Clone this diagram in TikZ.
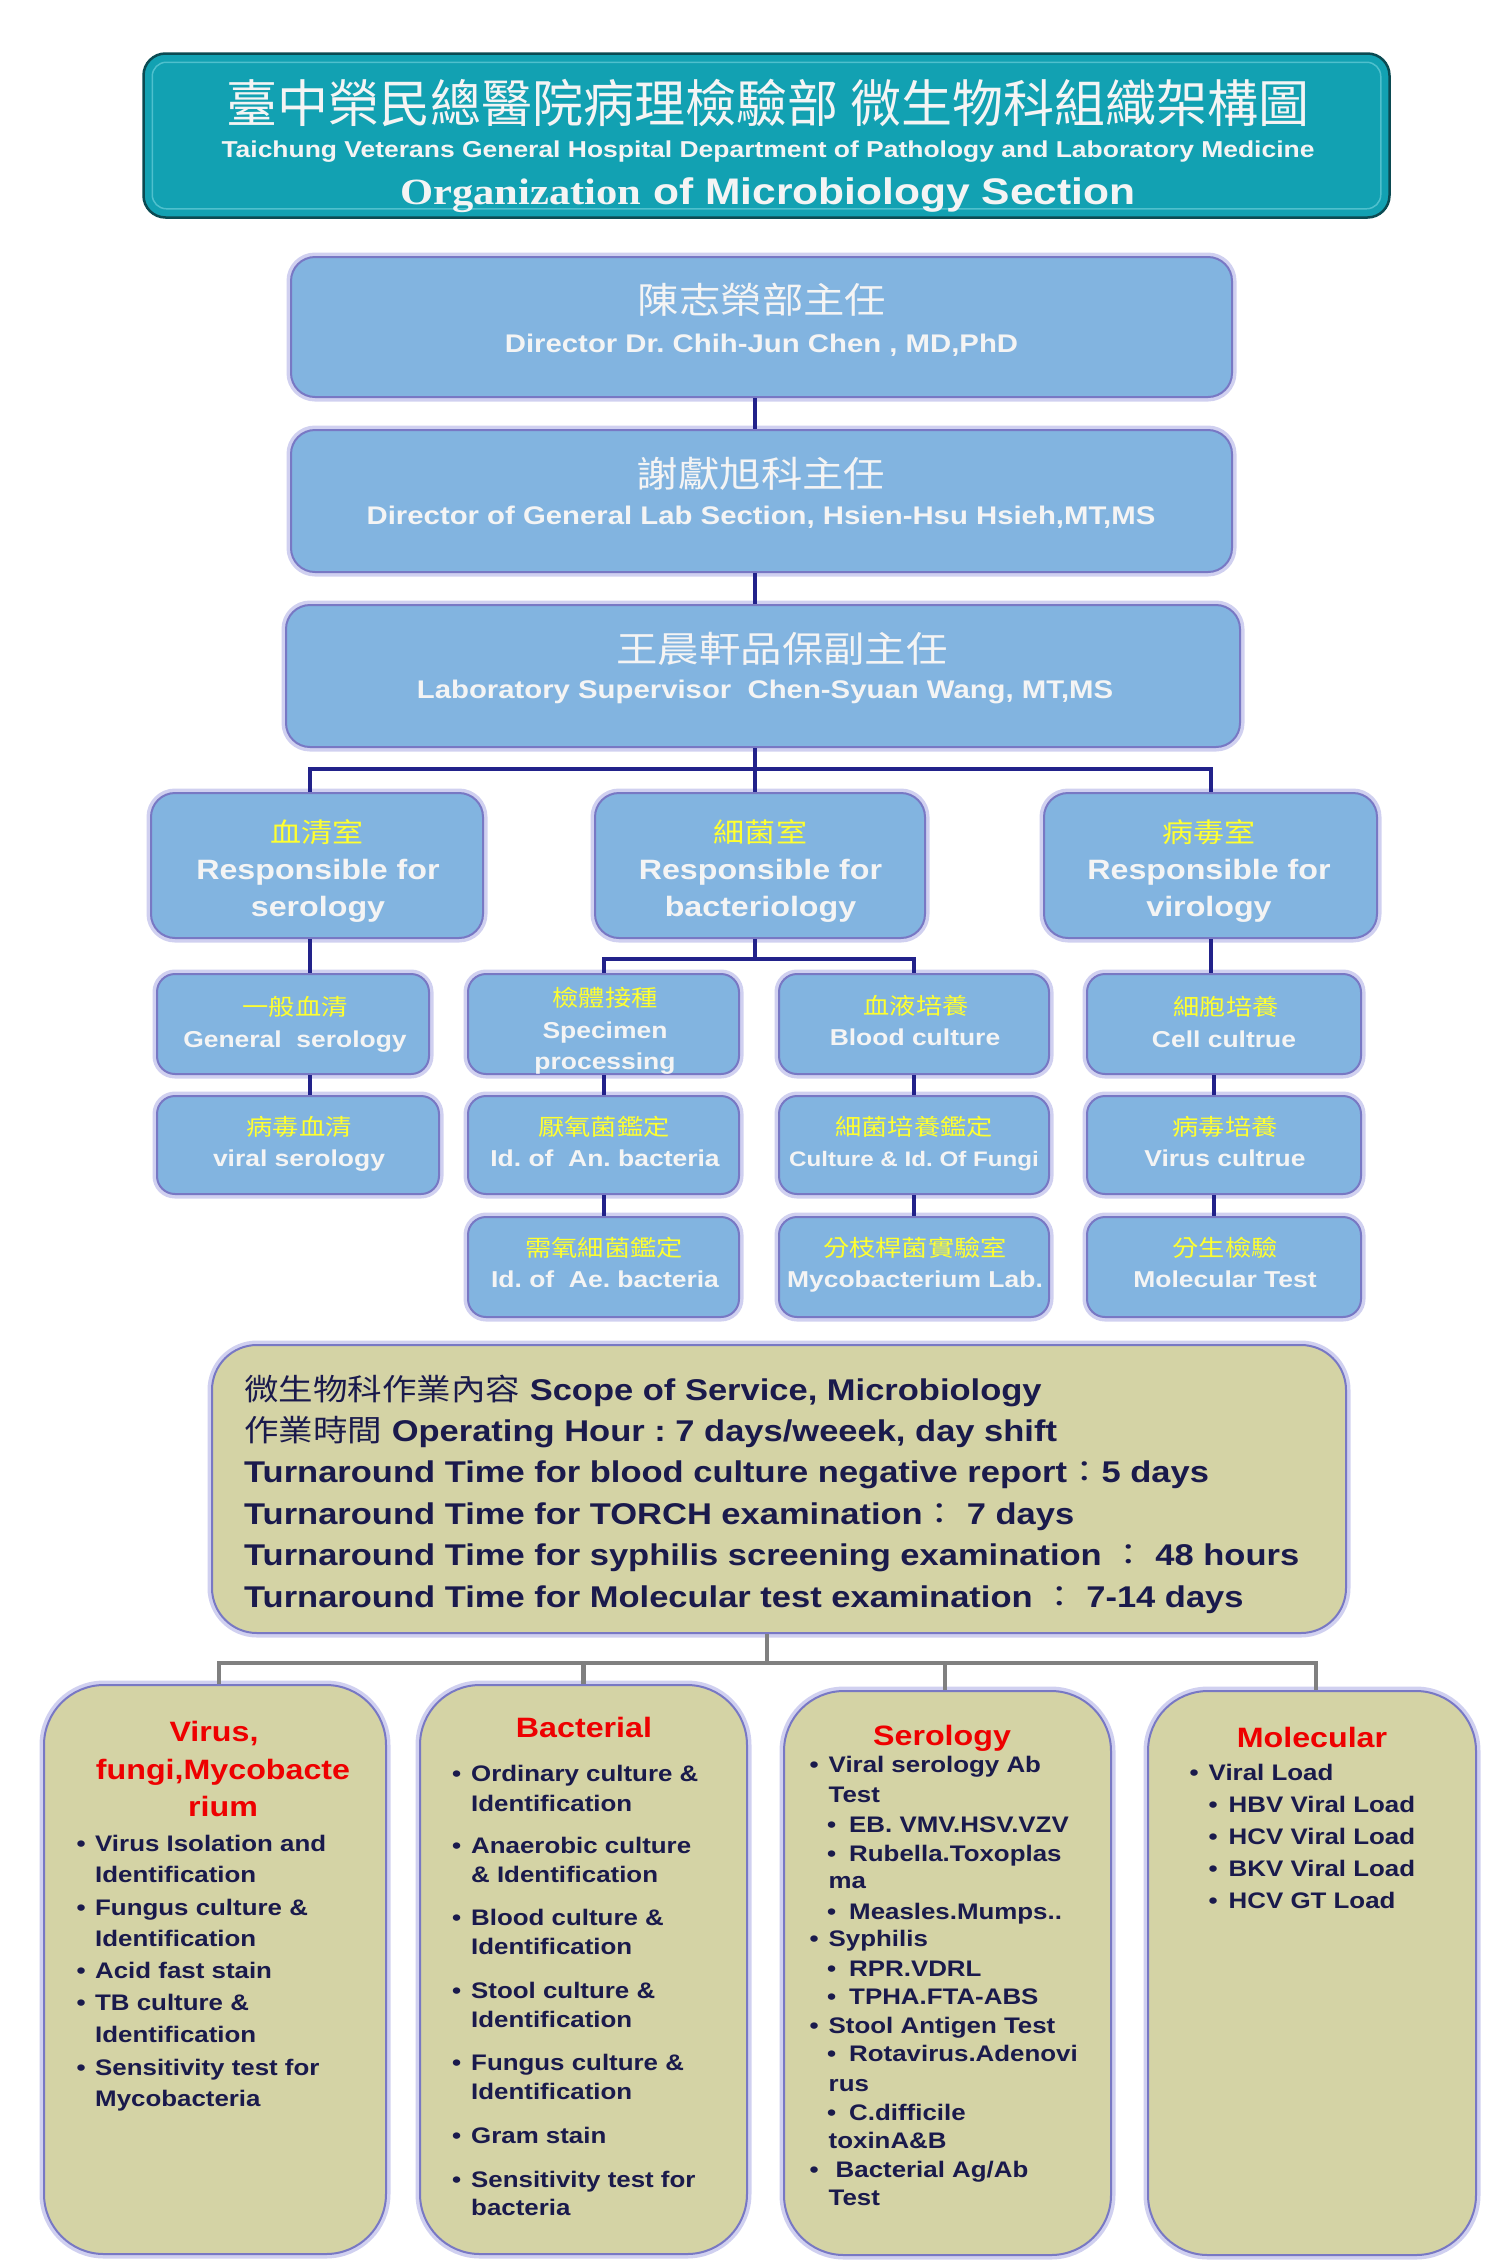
\documentclass[tikz,border=0pt]{standalone}
\usepackage{fontspec}
\setmainfont{Liberation Sans}[FakeStretch=1.15]
\newfontfamily\cjk{Noto Sans CJK TC}[FakeStretch=1.15]
\newfontfamily\cjkn{Noto Sans CJK TC}
\newfontfamily\serifbf{Liberation Serif}[FakeStretch=1.15]
\newcommand\myfs[1]{\fontsize{#1}{#1}\selectfont}
\definecolor{tealfill}{HTML}{12A1B2}
\definecolor{tealdark}{HTML}{0B4A52}
\definecolor{teallight}{HTML}{4FC0CD}
\definecolor{boxblue}{HTML}{82B4E0}
\definecolor{glowc}{HTML}{ABABE4}
\definecolor{edgec}{HTML}{7878C4}
\definecolor{khaki}{HTML}{D4D3A5}
\definecolor{connc}{HTML}{22228A}
\definecolor{navytxt}{HTML}{1A1A4C}
\definecolor{yel}{HTML}{FFFF30}
\definecolor{redt}{HTML}{EE0000}
\definecolor{grayc}{HTML}{808080}
\definecolor{whitet}{HTML}{F4F4F4}
\begin{document}
\frenchspacing
\begin{tikzpicture}[x=1pt,y=-1pt,
  bbox/.style={draw=edgec, line width=2pt, fill=boxblue, inner sep=0, rounded corners=24pt,
     preaction={draw=glowc, line width=9pt, opacity=0.55}},
  sbox/.style={bbox, rounded corners=18pt},
  kbox/.style={draw=edgec, line width=2pt, fill=khaki, inner sep=0,
     preaction={draw=glowc, line width=9pt, opacity=0.55}},
  conn/.style={draw=connc, line width=4pt},
  gconn/.style={draw=grayc, line width=4.5pt},
  l1c/.style={inner sep=0, text=whitet, font={\cjk\myfs{36}}},
  l1e/.style={inner sep=0, anchor=base, text=whitet, font={\myfs{25.5}\bfseries}},
  l2c/.style={inner sep=0, text=yel, font={\cjk\myfs{27}}},
  l2e/.style={inner sep=0, anchor=base, text=whitet, font={\myfs{28}\bfseries}},
  l3c/.style={inner sep=0, text=yel, font={\cjk\myfs{22.8}}},
  l3e/.style={inner sep=0, anchor=base, text=whitet, font={\myfs{23}\bfseries}},
  sc/.style={inner sep=0, anchor=base west, text=navytxt, font={\myfs{30}\bfseries}},
  rt/.style={inner sep=0, anchor=base, text=redt, font={\myfs{28}\bfseries}},
  li/.style={inner sep=0, anchor=base west, text=navytxt, font={\myfs{22.5}\bfseries}}
]
\fill[white] (0,0) rectangle (1512,2268);
\useasboundingbox (0,0) rectangle (1512,2268);

% ---------- title ----------
\node[draw=tealdark, line width=2.5pt, fill=tealfill, rounded corners=22pt,
      minimum width=1246pt, minimum height=164pt, inner sep=0] (title) at (766.5,135.5) {};
\draw[teallight, line width=1.5pt, rounded corners=14pt]
  ([shift={(10pt,-10pt)}]title.north west) rectangle ([shift={(-10pt,10pt)}]title.south east);
\node[inner sep=0, text=whitet, font={\cjkn\myfs{51}}] (t1) at (768,103) {臺中榮民總醫院病理檢驗部 微生物科組織架構圖};
\node[inner sep=0, anchor=base, text=whitet, font={\myfs{23}\bfseries}] (t2) at (768,157)
  {Taichung Veterans General Hospital Department of Pathology and Laboratory Medicine};
\node[inner sep=0, anchor=base, text=whitet, font={\myfs{37}\bfseries}] (t3) at (768,204)
  {{\serifbf\bfseries Organization} of Microbiology Section};

% ---------- top three boxes ----------
\node[bbox, minimum width=941pt, minimum height=140pt] (dir) at (761.5,327) {};
\node[l1c] (dirc) at (762,300) {陳志榮部主任};
\node[l1e] (dire) at (761.5,352) {Director Dr. Chih-Jun Chen , MD,PhD};

\node[bbox, minimum width=941pt, minimum height=142pt] (sect) at (761.5,501) {};
\node[l1c] (sectc) at (761,474) {謝獻旭科主任};
\node[l1e] (secte) at (761,524) {Director of General Lab Section, Hsien-Hsu Hsieh,MT,MS};

\node[bbox, minimum width=954pt, minimum height=142pt] (sup) at (763,676) {};
\node[l1c] (supc) at (782,649) {王晨軒品保副主任};
\node[l1e] (supe) at (765,698) {Laboratory Supervisor\ \ Chen-Syuan Wang, MT,MS};

% ---------- level 2 ----------
\node[bbox, minimum width=332pt, minimum height=145pt] (sero) at (317,865.5) {};
\node[l2c] (seroc) at (317,832) {血清室};
\node[l2e] (seroe1) at (318,879) {Responsible for};
\node[l2e] (seroe2) at (318,916) {serology};

\node[bbox, minimum width=330pt, minimum height=145pt] (bact) at (760,865.5) {};
\node[l2c] (bactc) at (760.5,832) {細菌室};
\node[l2e] (bacte1) at (760.5,879) {Responsible for};
\node[l2e] (bacte2) at (760.5,916) {bacteriology};

\node[bbox, minimum width=333pt, minimum height=145pt] (viro) at (1210.5,865.5) {};
\node[l2c] (viroc) at (1209,832) {病毒室};
\node[l2e] (viroe1) at (1209,879) {Responsible for};
\node[l2e] (viroe2) at (1209,916) {virology};

% ---------- level 3 ----------
\node[sbox, minimum width=272pt, minimum height=100pt] (gen) at (293,1024) {};
\node[l3c] (genc) at (295,1007) {一般血清};
\node[l3e] (gene) at (295,1047) {General\ \ serology};

\node[sbox, minimum width=282pt, minimum height=98pt] (vsero) at (298,1145) {};
\node[l3c] (vseroc) at (299,1127) {病毒血清};
\node[l3e] (vseroe) at (299,1166) {viral serology};

\node[sbox, minimum width=271pt, minimum height=100pt] (spec) at (603.5,1024) {};
\node[l3c] (specc) at (605,998) {檢體接種};
\node[l3e] (spece1) at (605,1038) {Specimen};
\node[l3e] (spece2) at (605,1069) {processing};

\node[sbox, minimum width=271pt, minimum height=98pt] (anae) at (603.5,1145) {};
\node[l3c] (anaec) at (604,1127) {厭氧菌鑑定};
\node[l3e] (anaee) at (605,1166) {Id. of\ \ An. bacteria};

\node[sbox, minimum width=271pt, minimum height=100pt] (aero) at (603.5,1267) {};
\node[l3c] (aeroc) at (604,1248) {需氧細菌鑑定};
\node[l3e] (aeroe) at (605,1287) {Id. of\ \ Ae. bacteria};

\node[sbox, minimum width=270pt, minimum height=100pt] (blood) at (914,1024) {};
\node[l3c] (bloodc) at (916,1006) {血液培養};
\node[l3e] (bloode) at (915,1045) {Blood culture};

\node[sbox, minimum width=270pt, minimum height=98pt] (fungi) at (914,1145) {};
\node[l3c] (fungic) at (914,1127) {細菌培養鑑定};
\node[l3e, font={\myfs{21}\bfseries}] (fungie) at (914,1166) {Culture \& Id. Of Fungi};

\node[sbox, minimum width=270pt, minimum height=100pt] (myco) at (914,1267) {};
\node[l3c] (mycoc) at (915,1248) {分枝桿菌實驗室};
\node[l3e] (mycoe) at (915,1287) {Mycobacterium Lab.};

\node[sbox, minimum width=274pt, minimum height=100pt] (cell) at (1224,1024) {};
\node[l3c] (cellc) at (1226,1007) {細胞培養};
\node[l3e] (celle) at (1224,1047) {Cell cultrue};

\node[sbox, minimum width=274pt, minimum height=98pt] (virc) at (1224,1145) {};
\node[l3c] (vircc) at (1225,1127) {病毒培養};
\node[l3e] (virce) at (1225,1166) {Virus cultrue};

\node[sbox, minimum width=274pt, minimum height=100pt] (mol3) at (1224,1267) {};
\node[l3c] (mol3c) at (1225,1248) {分生檢驗};
\node[l3e] (mol3e) at (1225,1287) {Molecular Test};

% ---------- navy connectors ----------
\coordinate (bus1) at (755,769);
\coordinate (bus2) at (755,959);
\draw[conn] ([xshift=-6.5pt]dir.south) -- ([xshift=-6.5pt]sect.north);
\draw[conn] ([xshift=-6.5pt]sect.south) -- ([xshift=-8pt]sup.north);
\draw[conn] ([xshift=-8pt]sup.south) -- (bus1);
\draw[conn] ([xshift=-7pt]sero.north) |- (bus1) -| (viro.north);
\draw[conn] (bus1) -- (bus1 |- bact.north);
\draw[conn] ([xshift=-7pt]sero.south) -- ([xshift=17pt]gen.north);
\draw[conn] ([xshift=17pt]gen.south) -- ([xshift=12pt]vsero.north);
\draw[conn] ([xshift=-5pt]bact.south) -- (bus2);
\draw[conn] (spec.north) |- (bus2) -| (blood.north);
\draw[conn] (spec.south) -- (anae.north);
\draw[conn] (anae.south) -- (aero.north);
\draw[conn] (blood.south) -- (fungi.north);
\draw[conn] (fungi.south) -- (myco.north);
\draw[conn] (viro.south) -- (viro.south |- cell.north);
\draw[conn] ([xshift=-10pt]cell.south) -- ([xshift=-10pt]virc.north);
\draw[conn] ([xshift=-10pt]virc.south) -- ([xshift=-10pt]mol3.north);

% ---------- scope box ----------
\node[kbox, rounded corners=45pt, minimum width=1134pt, minimum height=288pt] (scope) at (779,1489) {};
\node[sc] (sc1) at (244,1400) {{\cjk\mdseries 微生物科作業內容} Scope of Service, Microbiology};
\node[sc] (sc2) at (244,1441.4) {{\cjk\mdseries 作業時間} Operating Hour : 7 days/weeek, day shift};
\node[sc] (sc3) at (244,1482.8) {Turnaround Time for blood culture negative report{\cjk\mdseries ：}5 days};
\node[sc] (sc4) at (244,1524.2) {Turnaround Time for TORCH examination{\cjk\mdseries ：} 7 days};
\node[sc] (sc5) at (244,1565.6) {Turnaround Time for syphilis screening examination {\cjk\mdseries ：} 48 hours};
\node[sc] (sc6) at (244,1607) {Turnaround Time for Molecular test examination {\cjk\mdseries ：} 7-14 days};

% ---------- bottom boxes ----------
\node[kbox, rounded corners=60pt, minimum width=342pt, minimum height=569pt] (vfm) at (215,1969.5) {};
\node[kbox, rounded corners=60pt, minimum width=327pt, minimum height=569pt] (bac) at (583.5,1969.5) {};
\node[kbox, rounded corners=60pt, minimum width=327pt, minimum height=564pt] (ser) at (947.5,1973) {};
\node[kbox, rounded corners=60pt, minimum width=328pt, minimum height=564pt] (mol) at (1312,1973) {};

\coordinate (bus3) at (767,1663);
\draw[gconn] ([xshift=-12pt]scope.south) -- (bus3);
\draw[gconn] ([xshift=4pt]vfm.north) |- (bus3) -| ([xshift=4pt]mol.north);
\draw[gconn] (bac.north) -- (bac.north |- bus3);
\draw[gconn] ([xshift=-2.5pt]ser.north) -- ([xshift=-2.5pt]ser.north |- bus3);

% box 1
\node[rt] (vt1) at (214,1741) {Virus,};
\node[rt] (vt2) at (223,1779) {fungi,Mycobacte};
\node[rt] (vt3) at (223,1816) {rium};
\node[li] (v1) at (76.5,1851) {\makebox[18.5pt][l]{•}Virus Isolation and};
\node[li] (v2) at (95,1882) {Identification};
\node[li] (v3) at (76.5,1915) {\makebox[18.5pt][l]{•}Fungus culture \&};
\node[li] (v4) at (95,1946) {Identification};
\node[li] (v5) at (76.5,1978) {\makebox[18.5pt][l]{•}Acid fast stain};
\node[li] (v6) at (76.5,2010) {\makebox[18.5pt][l]{•}TB culture \&};
\node[li] (v7) at (95,2042) {Identification};
\node[li] (v8) at (76.5,2075) {\makebox[18.5pt][l]{•}Sensitivity test for};
\node[li] (v9) at (95,2106) {Mycobacteria};

% box 2
\node[rt] (bt) at (584,1737) {Bacterial};
\node[li] (b1) at (452,1781) {\makebox[19pt][l]{•}Ordinary culture \&};
\node[li] (b2) at (471,1811) {Identification};
\node[li] (b3) at (452,1853) {\makebox[19pt][l]{•}Anaerobic culture};
\node[li] (b4) at (471,1882) {\& Identification};
\node[li] (b5) at (452,1925) {\makebox[19pt][l]{•}Blood culture \&};
\node[li] (b6) at (471,1954) {Identification};
\node[li] (b7) at (452,1998) {\makebox[19pt][l]{•}Stool culture \&};
\node[li] (b8) at (471,2027) {Identification};
\node[li] (b9) at (452,2070) {\makebox[19pt][l]{•}Fungus culture \&};
\node[li] (b10) at (471,2099) {Identification};
\node[li] (b11) at (452,2143) {\makebox[19pt][l]{•}Gram stain};
\node[li] (b12) at (452,2187) {\makebox[19pt][l]{•}Sensitivity test for};
\node[li] (b13) at (471,2215) {bacteria};

% box 3
\node[rt] (st) at (942,1745) {Serology};
\node[li] (s1) at (809.5,1772) {\makebox[19pt][l]{•}Viral serology Ab};
\node[li] (s2) at (828.5,1802) {Test};
\node[li] (s3) at (827,1832) {\makebox[22pt][l]{•}EB. VMV.HSV.VZV};
\node[li] (s4) at (827,1861) {\makebox[22pt][l]{•}Rubella.Toxoplas};
\node[li] (s5) at (828.5,1888) {ma};
\node[li] (s6) at (827,1919) {\makebox[22pt][l]{•}Measles.Mumps..};
\node[li] (s7) at (809.5,1946) {\makebox[19pt][l]{•}Syphilis};
\node[li] (s8) at (827,1976) {\makebox[22pt][l]{•}RPR.VDRL};
\node[li] (s9) at (827,2004) {\makebox[22pt][l]{•}TPHA.FTA-ABS};
\node[li] (s10) at (809.5,2033) {\makebox[19pt][l]{•}Stool Antigen Test};
\node[li] (s11) at (827,2061) {\makebox[22pt][l]{•}Rotavirus.Adenovi};
\node[li] (s12) at (828.5,2091) {rus};
\node[li] (s13) at (827,2120) {\makebox[22pt][l]{•}C.difficile};
\node[li] (s14) at (828.5,2148) {toxinA\&B};
\node[li] (s15) at (809.5,2177.5) {\makebox[26pt][l]{•}Bacterial Ag/Ab};
\node[li] (s16) at (828.5,2205) {Test};

% box 4
\node[rt] (mt) at (1312,1747.5) {Molecular};
\node[li] (m1) at (1189.5,1780) {\makebox[19pt][l]{•}Viral Load};
\node[li] (m2) at (1208.5,1812) {\makebox[20pt][l]{•}HBV Viral Load};
\node[li] (m3) at (1208.5,1844) {\makebox[20pt][l]{•}HCV Viral Load};
\node[li] (m4) at (1208.5,1876) {\makebox[20pt][l]{•}BKV Viral Load};
\node[li] (m5) at (1208.5,1908) {\makebox[20pt][l]{•}HCV GT Load};
\end{tikzpicture}
\end{document}
